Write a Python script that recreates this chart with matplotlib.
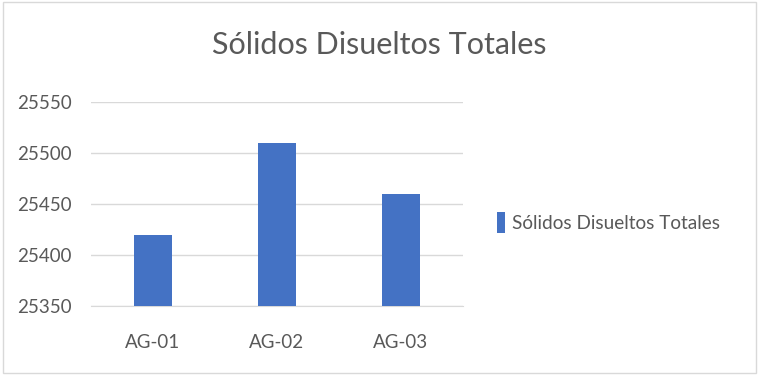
import matplotlib.pyplot as plt
from matplotlib.patches import Rectangle

plt.rcParams['font.family'] = ['Lato', 'DejaVu Sans']

muestras = ["AG-01", "AG-02", "AG-03"]
sdt = [25420, 25510, 25460]
serie = "Sólidos Disueltos Totales"

gris = "#595959"
azul = "#4472C4"

fig = plt.figure(figsize=(7.59, 3.75), dpi=100)
ax = fig.add_axes([0.1199, 0.184, 0.4901, 0.544])

ax.bar(range(len(muestras)), sdt, width=0.31, color=azul, label=serie, zorder=3)
ax.set_xlim(-0.5, len(muestras) - 0.5)
ax.set_ylim(25350, 25550)
ax.set_yticks(range(25350, 25551, 50))
ax.set_xticks(range(len(muestras)))
ax.set_xticklabels(muestras)
ax.grid(axis="y", color="#d9d9d9", linewidth=1, zorder=0)
for s in ax.spines.values():
    s.set_visible(False)
ax.spines["bottom"].set_visible(True)
ax.spines["bottom"].set_color("#d9d9d9")
ax.tick_params(length=0, colors=gris, labelsize=13.5)
ax.tick_params(axis="y", pad=14)
ax.tick_params(axis="x", pad=20)

fig.text(0.5, 0.88, serie, ha="center", va="center", fontsize=22, color=gris)

ax.legend(loc="center left", bbox_to_anchor=(1.045, 0.41), frameon=False,
          fontsize=13.7, labelcolor=gris, handlelength=0.45, handleheight=1.3,
          handletextpad=0.35)

# borde del área del gráfico
fig.patches.append(Rectangle((0.004, 0.005), 0.992, 0.99, transform=fig.transFigure,
                             fill=False, edgecolor="#d9d9d9", linewidth=1))

fig.savefig("out.png", dpi=100)
